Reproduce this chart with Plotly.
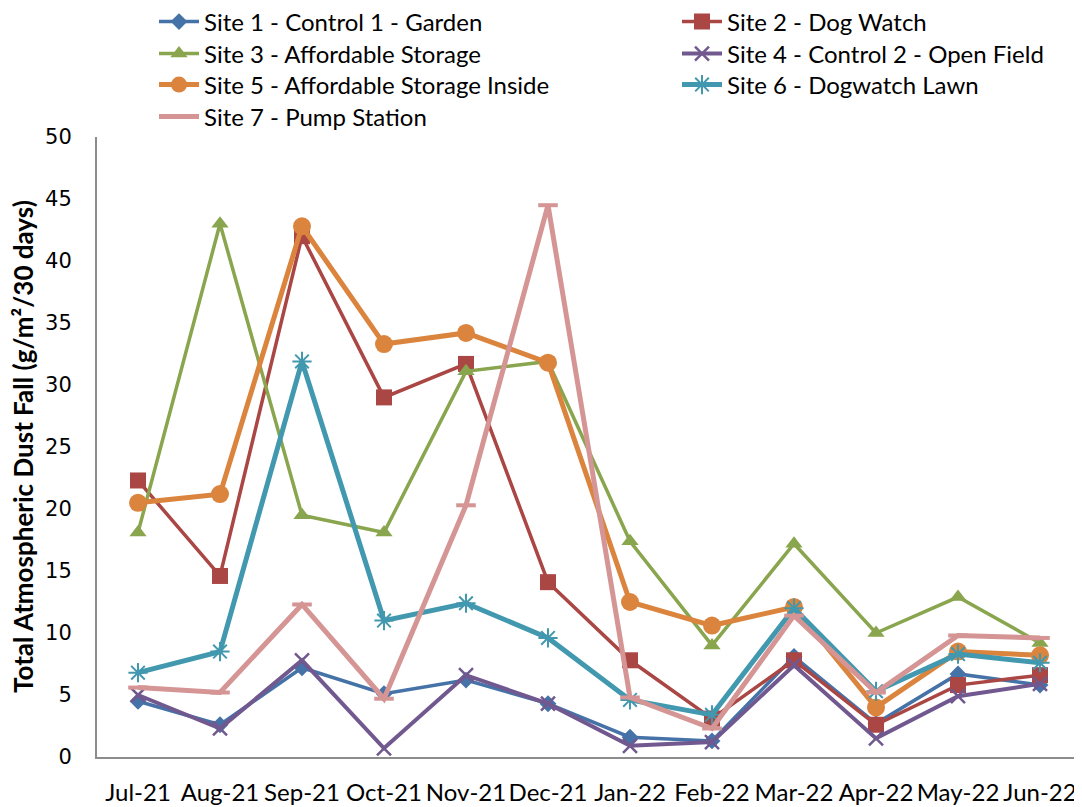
import plotly.graph_objects as go

months = ["Jul-21", "Aug-21", "Sep-21", "Oct-21", "Nov-21", "Dec-21",
          "Jan-22", "Feb-22", "Mar-22", "Apr-22", "May-22", "Jun-22"]

site1 = [4.5, 2.6, 7.2, 5.1, 6.2, 4.3, 1.6, 1.3, 8.1, 2.7, 6.7, 5.8]
site2 = [22.3, 14.6, 42.0, 29.0, 31.7, 14.1, 7.8, 3.1, 7.8, 2.6, 5.8, 6.6]
site3 = [18.1, 43.0, 19.5, 18.1, 31.1, 31.9, 17.4, 9.0, 17.2, 10.0, 12.9, 9.2]
site4 = [5.0, 2.3, 7.8, 0.7, 6.6, 4.3, 0.9, 1.2, 7.4, 1.5, 4.9, 5.9]
site5 = [20.5, 21.2, 42.8, 33.3, 34.2, 31.8, 12.5, 10.6, 12.1, 4.0, 8.5, 8.2]
site6 = [6.8, 8.5, 31.9, 11.0, 12.4, 9.6, 4.6, 3.4, 12.0, 5.3, 8.3, 7.6]
site7 = [5.6, 5.2, 12.3, 4.7, 20.3, 44.5, 4.8, 2.3, 11.4, 5.2, 9.8, 9.6]

names = ["Site 1 - Control 1 - Garden", "Site 2 - Dog Watch",
         "Site 3 - Affordable Storage", "Site 4 - Control 2 - Open Field",
         "Site 5 - Affordable Storage Inside", "Site 6 - Dogwatch Lawn",
         "Site 7 - Pump Station"]

FONT = "Lato"
W, H = 1082, 807
OFF = 8  # page body margin offset

styles = [
    dict(color="#4572A7", width=3.5, symbol="diamond", size=13, lw=0),
    dict(color="#AA4643", width=3.5, symbol="square", size=16, lw=0),
    dict(color="#89A54E", width=3.5, symbol="triangle-up", size=15, lw=0),
    dict(color="#71588F", width=4, symbol="x-thin-open", size=14, lw=2.5),
    dict(color="#DB843D", width=5, symbol="circle", size=18, lw=0),
    dict(color="#4198AF", width=5, symbol="asterisk-open", size=16, lw=2),
    dict(color="#D59595", width=5, symbol="line-ew-open", size=14, lw=4),
]

# legend slot positions (left x of legend box, centre y of row) in target pixels
legend_slots = [(154, 22), (677, 22), (154, 54), (677, 54), (154, 85), (677, 85), (154, 117)]

series = [site1, site2, site3, site4, site5, site6, site7]

fig = go.Figure()
layout_legends = {}
for i, (name, vals, st) in enumerate(zip(names, series, styles)):
    key = "legend" if i == 0 else f"legend{i + 1}"
    fig.add_trace(go.Scatter(
        x=months, y=vals, name=name, mode="lines+markers",
        line=dict(color=st["color"], width=st["width"]),
        marker=dict(symbol=st["symbol"], size=st["size"], color=st["color"],
                    line=dict(color=st["color"], width=st["lw"])),
        legend=key,
    ))
    lx, ly = legend_slots[i]
    layout_legends[key] = dict(
        xref="container", yref="container",
        x=(lx - OFF) / W, y=1 - (ly - OFF) / H, xanchor="left", yanchor="middle",
        font=dict(family=FONT, size=24, color="#000000"),
        bgcolor="rgba(0,0,0,0)", borderwidth=0,
        itemwidth=40,
    )

plot_left, plot_top, plot_bottom, plot_right = 97 - OFF, 137 - OFF, 757 - OFF, 1081 - OFF

fig.update_layout(
    width=W, height=H,
    paper_bgcolor="white", plot_bgcolor="white",
    margin=dict(l=plot_left, r=W - plot_right, t=plot_top, b=H - plot_bottom, autoexpand=False),
    font=dict(family=FONT, size=20, color="#000000"),
    showlegend=True,
    **layout_legends,
    xaxis=dict(
        type="category", range=[-0.5, len(months) - 0.5],
        showline=True, linecolor="#8c8c8c", linewidth=2,
        showgrid=False, ticks="", automargin=False, ticklabelstandoff=13,
        tickfont=dict(family=FONT, size=24, color="#000000"),
        zeroline=False,
    ),
    yaxis=dict(
        range=[0, 50], dtick=5, showline=True, linecolor="#8c8c8c", linewidth=2,
        showgrid=False, ticks="", zeroline=False, automargin=False,
        ticklabelstandoff=19,
        tickfont=dict(family="DejaVu Sans", size=21, color="#000000"),
    ),
    annotations=[dict(
        text="<b>Total Atmospheric Dust Fall (g/m²/30 days)</b>",
        textangle=-90, xref="paper", yref="paper",
        x=(23 - 97) / (1081 - 97), y=0.5, xanchor="center", yanchor="middle",
        showarrow=False, font=dict(family=FONT, size=26, color="#000000"),
    )],
)

fig.write_html("out.html")
